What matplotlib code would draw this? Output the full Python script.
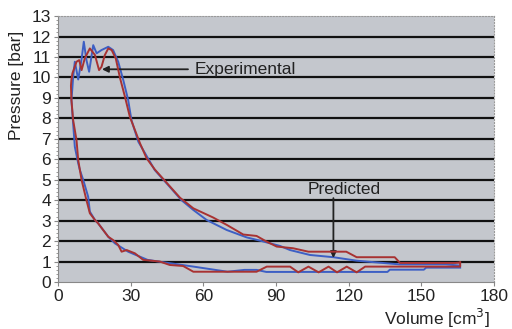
import matplotlib
matplotlib.use('Agg')
import matplotlib.pyplot as plt
from matplotlib.ticker import MultipleLocator

plt.rcParams['font.family'] = ['Liberation Sans', 'DejaVu Sans']

# Predicted cycle (blue), traced as one closed path
pred_vol = [166, 152, 151, 137, 136, 86, 82, 77, 70, 56, 42, 37, 29, 23.5, 20.8,
            16.6, 15.3, 13.2, 12.5, 10.5, 9.1, 8.4, 7.0, 6.3, 5.6, 6.0, 6.3, 7.0,
            8.4, 9.8, 10.7, 11.8, 12.9, 14.6, 16.0, 18.0, 20.8, 22.8, 24.9, 27.0,
            29.0, 30.4, 33.2, 36.0, 40.0, 44.9, 51.0, 55.9, 61.4, 69.7, 77.9, 83.4,
            91.7, 95.8, 104, 113.7, 123.3, 133, 141, 160, 166]
pred_p = [0.7, 0.7, 0.6, 0.6, 0.49, 0.49, 0.59, 0.59, 0.5, 0.75, 0.99, 1.08, 1.48,
          1.89, 2.21, 2.87, 3.03, 3.44, 4.17, 4.98, 5.47, 5.8, 6.61, 7.76, 8.9, 9.5,
          10.0, 10.77, 9.9, 10.9, 11.75, 10.85, 10.28, 11.58, 11.18, 11.34, 11.5,
          11.34, 10.77, 9.87, 8.9, 7.9, 6.86, 6.29, 5.47, 4.82, 4.0, 3.52, 3.03,
          2.54, 2.18, 2.02, 1.76, 1.56, 1.32, 1.21, 1.04, 0.94, 0.86, 0.86, 0.8]

# Experimental cycle (red)
exp_vol = [166, 166, 160.5, 126.8, 123.3, 119.2, 115.2, 111.7, 107.6, 103.4, 99.2,
           95.8, 86.2, 82, 55.9, 51.7, 46.2, 42, 35.2, 31.8, 28.4, 26.3, 24.9, 22.8,
           20.8, 16.6, 15.3, 13.2, 11.8, 9.8, 8.4, 7.7, 6.3, 5.6, 5.4, 5.6, 6.0, 7.7,
           8.8, 9.8, 11.1, 13.2, 15.3, 17.0, 18.0, 19.4, 20.8, 22.2, 23.9, 25.6,
           27.7, 29.7, 33.9, 36.6, 40, 44.9, 50.4, 55.9, 64.1, 69.7, 76.5, 82, 86.2,
           90.3, 97, 103.4, 119, 123.3, 139, 141.2, 164, 166]
exp_p = [0.95, 0.75, 0.75, 0.75, 0.47, 0.75, 0.47, 0.75, 0.47, 0.75, 0.47, 0.75,
         0.75, 0.5, 0.5, 0.78, 0.83, 1.0, 1.08, 1.4, 1.56, 1.48, 1.81, 2.05, 2.21,
         2.87, 3.03, 3.36, 4.0, 4.98, 5.96, 6.94, 7.92, 8.9, 9.6, 9.9, 10.2, 10.77,
         10.85, 10.36, 10.93, 11.42, 11.1, 10.36, 10.52, 11.1, 11.42, 11.34, 10.93,
         10.0, 9.05, 8.08, 6.78, 6.05, 5.5, 4.85, 4.12, 3.6, 3.15, 2.79, 2.32, 2.25,
         1.97, 1.73, 1.65, 1.48, 1.48, 1.21, 1.21, 0.93, 0.93, 0.95]

x_ticks = [0, 30, 60, 90, 120, 150, 180]
y_ticks = list(range(0, 14))

fs = 12.5

fig = plt.figure(figsize=(5.12, 3.29), dpi=100)
ax = fig.add_axes([0.113, 0.143, 0.852, 0.808])
ax.set_facecolor('#c4c7cd')

for yv in range(1, 13):
    ax.axhline(yv, color='#111111', lw=1.6, zorder=1)

ax.plot(pred_vol, pred_p, color='#3d5fc4', lw=1.4, zorder=3)
ax.plot(exp_vol, exp_p, color='#a83232', lw=1.4, zorder=4)

ax.set_xlim(0, 180)
ax.set_ylim(0, 13)
ax.set_xticks(x_ticks)
ax.set_yticks(y_ticks)
ax.yaxis.set_minor_locator(MultipleLocator(0.2))
ax.tick_params(axis='both', labelsize=fs, colors='#222222', length=3,
               width=0.8, pad=2)
ax.tick_params(axis='y', which='minor', length=1.5, color='#888888')
ax.tick_params(axis='both', which='major', color='#888888')

for side in ['left', 'bottom']:
    ax.spines[side].set_color('#888888')
for side in ['top', 'right']:
    ax.spines[side].set_color('#9a9a9a')
    ax.spines[side].set_linestyle(':')

ax.set_ylabel('Pressure [bar]', fontsize=fs, color='#222222')
ax.yaxis.set_label_coords(-0.078, 0.74)
ax.set_xlabel('Volume [cm$^3$]', fontsize=fs, color='#222222')
ax.xaxis.set_label_coords(0.869, -0.092)

ax.annotate('', xy=(18.2, 10.4), xytext=(53.7, 10.4),
            arrowprops=dict(arrowstyle='-|>', color='#222222', lw=1.3,
                            mutation_scale=9, shrinkA=0, shrinkB=0))
ax.text(56.5, 10.4, 'Experimental', fontsize=fs, color='#222222', va='center')

ax.annotate('', xy=(113.7, 1.17), xytext=(113.7, 4.1),
            arrowprops=dict(arrowstyle='-|>', color='#222222', lw=1.3,
                            mutation_scale=9, shrinkA=0, shrinkB=0))
ax.text(118, 4.5, 'Predicted', fontsize=fs, color='#222222',
        ha='center', va='center')

fig.savefig('out.png', dpi=100)
